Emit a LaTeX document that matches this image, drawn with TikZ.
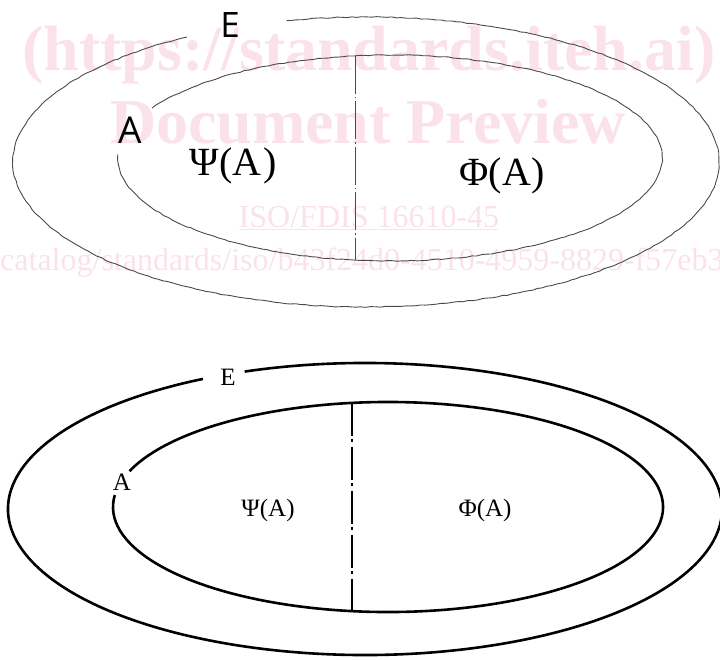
\documentclass[tikz,border=0pt]{standalone}
\usepackage{fontspec}
\setmainfont{Liberation Serif}
\newfontfamily\labelsans{Open Sans}
\usetikzlibrary{calc, decorations.pathmorphing}
\definecolor{cstamp}{HTML}{FBE2EA}
\definecolor{csketch}{HTML}{4A4A4A}
\tikzset{
  every picture/.style={x=1pt, y=-1pt},
  sketchline/.style={draw=csketch, line width=0.9pt, decorate, decoration={random steps, segment length=5pt, amplitude=0.45pt}},
  boldline/.style={draw=black, line width=2.6pt},
  axisline/.style={dash pattern=on 33pt off 3pt on 3pt off 5pt},
  stamp/.style={text=cstamp, inner sep=0pt},
  lbl/.style={inner sep=0pt},
  toplbl/.style={lbl, font=\fontsize{40}{40}\selectfont},
  toptag/.style={lbl, font=\labelsans\fontsize{35}{35}\selectfont},
  botlbl/.style={lbl, font=\fontsize{25}{25}\selectfont},
}

\begin{document}
\begin{tikzpicture}
  \useasboundingbox (0,0) rectangle (720,659);
  % watermark
  \node[stamp, anchor=base, font=\bfseries\fontsize{64}{64}\selectfont] (wa) at (369,70) {(https://standards.iteh.ai)};
  \node[stamp, anchor=base, font=\bfseries\fontsize{64}{64}\selectfont] (wb) at (368,143) {Document Preview};
  \node[stamp, anchor=base, font=\fontsize{32}{32}\selectfont] (wc) at (369,227) {\underline{ISO/FDIS 16610-45}};
  \node[stamp, anchor=base west, font=\fontsize{32}{32}\selectfont] (wd) at (0,270) {catalog/standards/iso/b43f24d0-4510-4959-8829-f57eb3};
  % upper sketch
  \coordinate (tc) at (366,162);
  \coordinate (ti) at (390,158);
  \draw[sketchline] (tc) ++(-103:353 and 145) arc[start angle=-103, end angle=239.5, x radius=353, y radius=145];
  \draw[sketchline] (ti) ++(209:272 and 103) arc[start angle=209, end angle=542, x radius=272, y radius=103];
  \coordinate (tt) at ($(ti)+(-97.4:272 and 103)$);
  \coordinate (tb) at ($(ti)+(97.4:272 and 103)$);
  \draw[draw=csketch, line width=0.9pt, dash pattern=on 38pt off 3pt on 1.5pt off 3pt] (tt) -- (tb);
  \node[toptag] (te) at (230,25) {E};
  \node[toptag, font=\labelsans\fontsize{37}{37}\selectfont] (ta) at (130,130) {A};
  \node[toplbl] (tpsi) at (233,166) {Ψ(A\kern2pt)};
  \node[toplbl] (tphi) at (502,176) {Φ(A)};
  % lower drawing
  \coordinate (bc) at (365,509);
  \coordinate (bi) at (388,507);
  \draw[boldline] (bc) ++(-109.7:357 and 146) arc[start angle=-109.7, end angle=243, x radius=357, y radius=146];
  \draw[boldline] (bi) ++(200:275 and 105) arc[start angle=200, end angle=546.5, x radius=275, y radius=105];
  \coordinate (bt) at ($(bi)+(-97.5:275 and 105)$);
  \coordinate (bb) at ($(bi)+(97.5:275 and 105)$);
  \draw[draw=black, line width=1.6pt, axisline] (bt) -- (bb);
  \node[botlbl] (be) at (228,377) {E};
  \node[botlbl] (ba) at (122,482) {A};
  \node[botlbl] (bpsi) at (268,510) {Ψ(A)};
  \node[botlbl] (bphi) at (485,510) {Φ(A)};
\end{tikzpicture}
\end{document}
